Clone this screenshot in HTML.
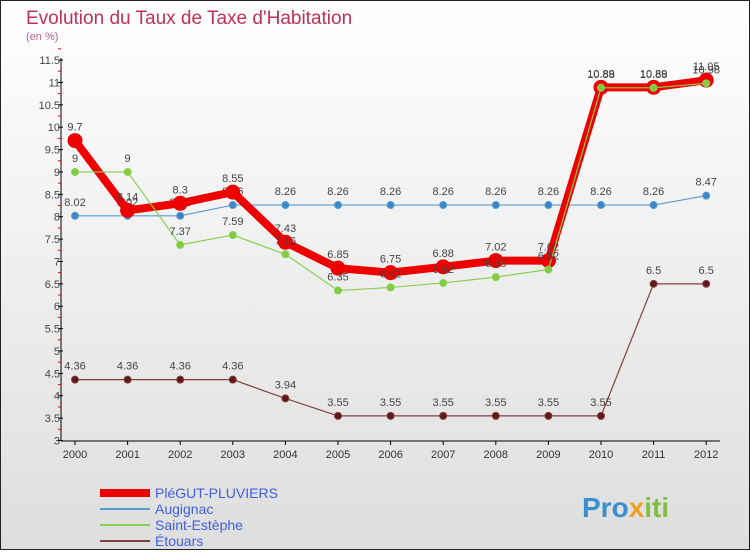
<!DOCTYPE html>
<html><head><meta charset="utf-8"><style>
body{margin:0}
svg text{font-family:"Liberation Sans",sans-serif}
</style></head><body>
<svg id="c" width="750" height="550" xmlns="http://www.w3.org/2000/svg">
<defs><linearGradient id="bg" x1="0" y1="0" x2="0" y2="1"><stop offset="0" stop-color="#ffffff"/><stop offset="1" stop-color="#dedede"/></linearGradient></defs>
<rect x="0.5" y="0.5" width="749" height="549" fill="url(#bg)" stroke="#222"/>
<text x="26" y="24" font-size="19" fill="#c0305a">Evolution du Taux de Taxe d'Habitation</text>
<text x="26" y="40" font-size="11" fill="#c0608a">(en %)</text>
<g id="axes"></g><g id="series"></g>
<g>
<line x1="100" y1="493" x2="150" y2="493" stroke="#e00" stroke-width="8"/>
<text x="155" y="498" font-size="14" fill="#4060e0">PléGUT-PLUVIERS</text>
<line x1="100" y1="509" x2="150" y2="509" stroke="#5a9bd0" stroke-width="2"/>
<text x="155" y="514" font-size="14" fill="#4060e0">Augignac</text>
<line x1="100" y1="525" x2="150" y2="525" stroke="#88d050" stroke-width="2"/>
<text x="155" y="530" font-size="14" fill="#4060e0">Saint-Estèphe</text>
<line x1="100" y1="541" x2="150" y2="541" stroke="#804040" stroke-width="2"/>
<text x="155" y="546" font-size="14" fill="#4060e0">Étouars</text>
</g>
<text x="582" y="517" font-size="28" font-weight="bold" fill="#3a8fd0">Pro<tspan fill="#f0a020">x</tspan><tspan fill="#80c040">iti</tspan></text>
</svg>
<script>
const years=[2000,2001,2002,2003,2004,2005,2006,2007,2008,2009,2010,2011,2012];
const yTicks=[3,3.5,4,4.5,5,5.5,6,6.5,7,7.5,8,8.5,9,9.5,10,10.5,11,11.5];
const yTickLabels=["3","3.5","4","4.5","5","5.5","6","6.5","7","7.5","8","8.5","9","9.5","10","10.5","11","11.5"];
const pleguт=[9.7,8.14,8.3,8.55,7.43,6.85,6.75,6.88,7.02,7.02,10.89,10.89,11.05];
const augignac=[8.02,8.02,8.02,8.26,8.26,8.26,8.26,8.26,8.26,8.26,8.26,8.26,8.47];
const stEstephe=[9,9,7.37,7.59,7.16,6.35,6.42,6.52,6.65,6.82,10.88,10.88,10.98];
const etouars=[4.36,4.36,4.36,4.36,3.94,3.55,3.55,3.55,3.55,3.55,3.55,6.5,6.5];
const NS="http://www.w3.org/2000/svg";
const X=i=>75+i*52.6, Y=v=>440.5-(v-3)*44.76;
function mk(t,a,p){const e=document.createElementNS(NS,t);for(const k in a)e.setAttribute(k,a[k]);p.appendChild(e);return e;}
const ax=document.getElementById('axes');
let l=mk('line',{x1:61,y1:58,x2:61,y2:441,stroke:'#000'},ax);


l=mk('line',{x1:61,y1:441,x2:720,y2:441,stroke:'#000'},ax);


yTicks.forEach((v,i)=>{
 mk('line',{x1:58,y1:Y(v),x2:63,y2:Y(v),stroke:'#000'},ax);
 mk('line',{x1:58,y1:Y(v+0.25),x2:61,y2:Y(v+0.25),stroke:'#e00'},ax);
 const t=mk('text',{x:60,y:Y(v)+4,'font-size':11,'text-anchor':'end',fill:'#444'},ax);
 t.textContent=yTickLabels[i];
 
 
});
years.forEach((y,i)=>{
 mk('line',{x1:X(i),y1:441,x2:X(i),y2:445,stroke:'#000'},ax);
 const t=mk('text',{x:X(i),y:458,'font-size':11,'text-anchor':'middle',fill:'#333'},ax);
 t.textContent=y;
 
 
});
const sg=document.getElementById('series');
function series(vals,color,w,r,fill,name){
 const g=mk('g',{},sg);
 
 
 mk('polyline',{points:vals.map((v,i)=>X(i)+','+Y(v)).join(' '),fill:'none',stroke:color,'stroke-width':w,'stroke-linejoin':'round'},g);
 vals.forEach((v,i)=>{
  const c=mk('circle',{cx:X(i),cy:Y(v),r:r,fill:fill,stroke:color,'stroke-width':1},g);
  
  
  const t=mk('text',{x:X(i),y:Y(v)-10,'font-size':11,'text-anchor':'middle',fill:'#444'},g);
  t.textContent=String(v);
  
  
 });
}
series(etouars,'#804040',1.2,3.5,'#601818','series-etouars');
series(augignac,'#5a9bd0',1.2,3.5,'#3a86c8','series-augignac');
series(pleguт,'#e00',8,7,'#e00','series-plegut-pluviers');
series(stEstephe,'#88d050',1.2,3.5,'#80cc40','series-saint-estephe');
</script>
</body></html>
